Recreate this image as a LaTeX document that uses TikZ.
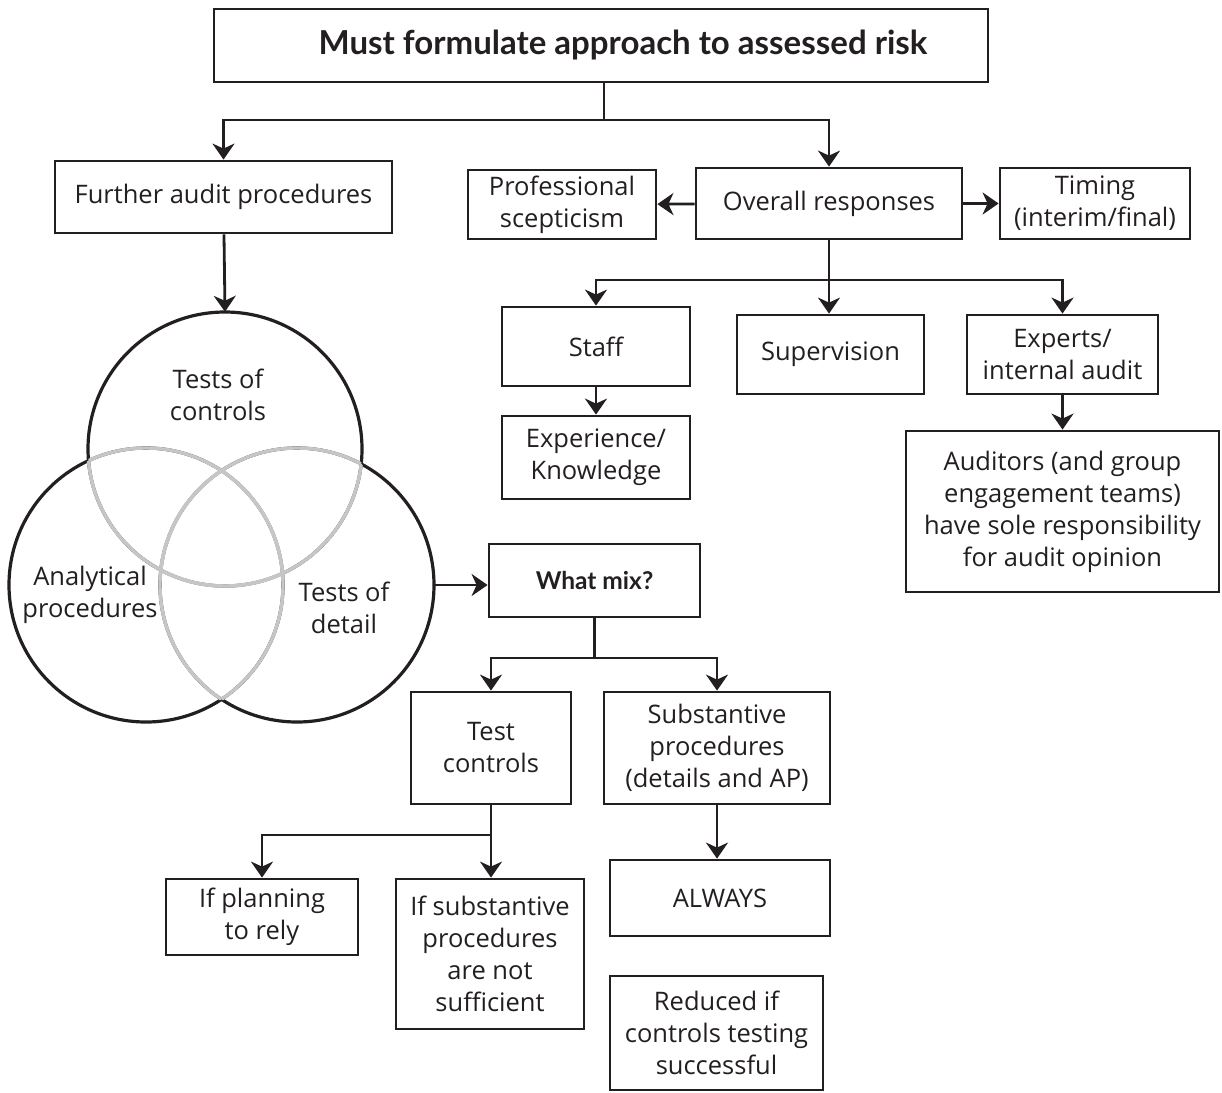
\documentclass[tikz,border=0pt]{standalone}
\usepackage{fontspec}
\setmainfont{Open Sans}
\newfontfamily\headfont{Lato}
\usetikzlibrary{arrows.meta}
\definecolor{venngray}{HTML}{C6C6C6}
\definecolor{ink}{HTML}{231F20}
\begin{document}
\begin{tikzpicture}[x=1pt,y=-1pt,
  txt/.style={font=\fontsize{25.5}{32}\selectfont, align=center, inner sep=0pt, text=ink},
  box/.style={txt, draw=ink, line width=2.8pt},
  conn/.style={draw=ink, line width=2.8pt},
  arr/.style={conn, -{Stealth[length=16pt,width=22pt,inset=5pt]}},
  ring/.style={circle, minimum size=274pt, inner sep=0pt},
]
\useasboundingbox (0,0) rectangle (1222,1092);

% --- boxes ---
\node[box, minimum width=774pt, minimum height=73pt, font=\fontsize{33}{36}\headfont\bfseries] (top) at (601,45.5) {\hspace*{44pt}Must formulate approach to assessed risk};
\node[box, minimum width=337pt, minimum height=72pt] (further) at (223.5,197) {Further audit procedures};
\node[box, minimum width=188pt, minimum height=69pt] (prof) at (562,204.5) {Professional\\scepticism};
\node[box, minimum width=266pt, minimum height=71pt] (overall) at (829,203.5) {Overall responses};
\node[box, minimum width=190pt, minimum height=71pt] (timing) at (1095,203.5) {Timing\\(interim/final)};
\node[box, minimum width=188pt, minimum height=79pt] (staff) at (596,346.5) {Staff};
\node[box, minimum width=187pt, minimum height=79pt] (super) at (830.5,354.5) {Supervision};
\node[box, minimum width=191pt, minimum height=79pt] (experts) at (1062.5,354.5) {Experts/\\internal audit};
\node[box, minimum width=188pt, minimum height=83pt] (exper) at (596,457.5) {Experience/\\Knowledge};
\node[box, minimum width=313pt, minimum height=161pt] (auditors) at (1062.5,511.5) {Auditors (and group\\engagement teams)\\have sole responsibility\\for audit opinion};
\node[box, minimum width=211pt, minimum height=73pt, font=\fontsize{24.5}{32}\headfont\bfseries] (mix) at (594.5,580.5) {What mix?};
\node[box, minimum width=160pt, minimum height=112pt] (testctl) at (491,748) {Test\\controls};
\node[box, minimum width=226pt, minimum height=112pt] (subst) at (717,748) {Substantive\\procedures\\(details and AP)};
\node[box, minimum width=220pt, minimum height=76pt] (always) at (720,898) {ALWAYS};
\node[box, minimum width=213pt, minimum height=114pt] (reduced) at (716.5,1033) {Reduced if\\controls testing\\successful};
\node[box, minimum width=192pt, minimum height=76pt] (rely) at (262,917) {If planning\\to rely};
\node[box, minimum width=188pt, minimum height=150pt] (notsuff) at (490,954) {If substantive\\procedures\\are not\\sufficient};

% --- Venn diagram of the three kinds of tests ---
\node[ring] (ctop) at (225,449) {};
\node[ring] (cleft) at (146,585) {};
\node[ring] (cright) at (297,585) {};
\draw[ink, line width=3.2pt] (225,449) circle[radius=137];
\draw[ink, line width=3.2pt] (146,585) circle[radius=137];
\draw[ink, line width=3.2pt] (297,585) circle[radius=137];
\begin{scope}
  \clip (146,585) circle[radius=137];
  \draw[venngray, line width=3.4pt] (225,449) circle[radius=137];
  \draw[venngray, line width=3.4pt] (297,585) circle[radius=137];
\end{scope}
\begin{scope}
  \clip (297,585) circle[radius=137];
  \draw[venngray, line width=3.4pt] (225,449) circle[radius=137];
  \draw[venngray, line width=3.4pt] (146,585) circle[radius=137];
\end{scope}
\begin{scope}
  \clip (225,449) circle[radius=137];
  \draw[venngray, line width=3.4pt] (146,585) circle[radius=137];
  \draw[venngray, line width=3.4pt] (297,585) circle[radius=137];
\end{scope}
\node[txt] (ltop) at (218,395) {Tests of\\controls};
\node[txt] (lleft) at (90,595) {Analytical\\procedures};
\node[txt] (lright) at (344,608) {Tests of\\detail};

% --- connectors ---
\coordinate (j1) at (604,120);
\draw[conn] (top.south -| j1) -- (j1);
\draw[arr] (j1) -| (further);
\draw[arr] (j1) -| (overall);
\draw[arr] (overall) -- (prof);
\draw[arr] (overall) -- (timing);
\coordinate (j2) at (829,280);
\draw[conn] (overall) -- (j2);
\draw[arr] (j2) -| (staff);
\draw[arr] (j2) -- (j2 |- super.north);
\draw[arr] (j2) -| (experts);
\draw[arr] (staff) -- (exper);
\draw[arr] (experts) -- (auditors);
\draw[arr] (further) -- (ctop.north);
\draw[arr] (cright.east) -- (cright.east -| mix.west);
\coordinate (j3) at (594.5,658);
\draw[conn] (mix) -- (j3);
\draw[arr] (j3) -| (testctl);
\draw[arr] (j3) -| (subst);
\draw[arr] (subst) -- (subst |- always.north);
\coordinate (j4) at (491,835);
\draw[conn] (testctl) -- (j4);
\draw[arr] (j4) -| (rely);
\draw[arr] (j4) -- (j4 |- notsuff.north);
\end{tikzpicture}
\end{document}
